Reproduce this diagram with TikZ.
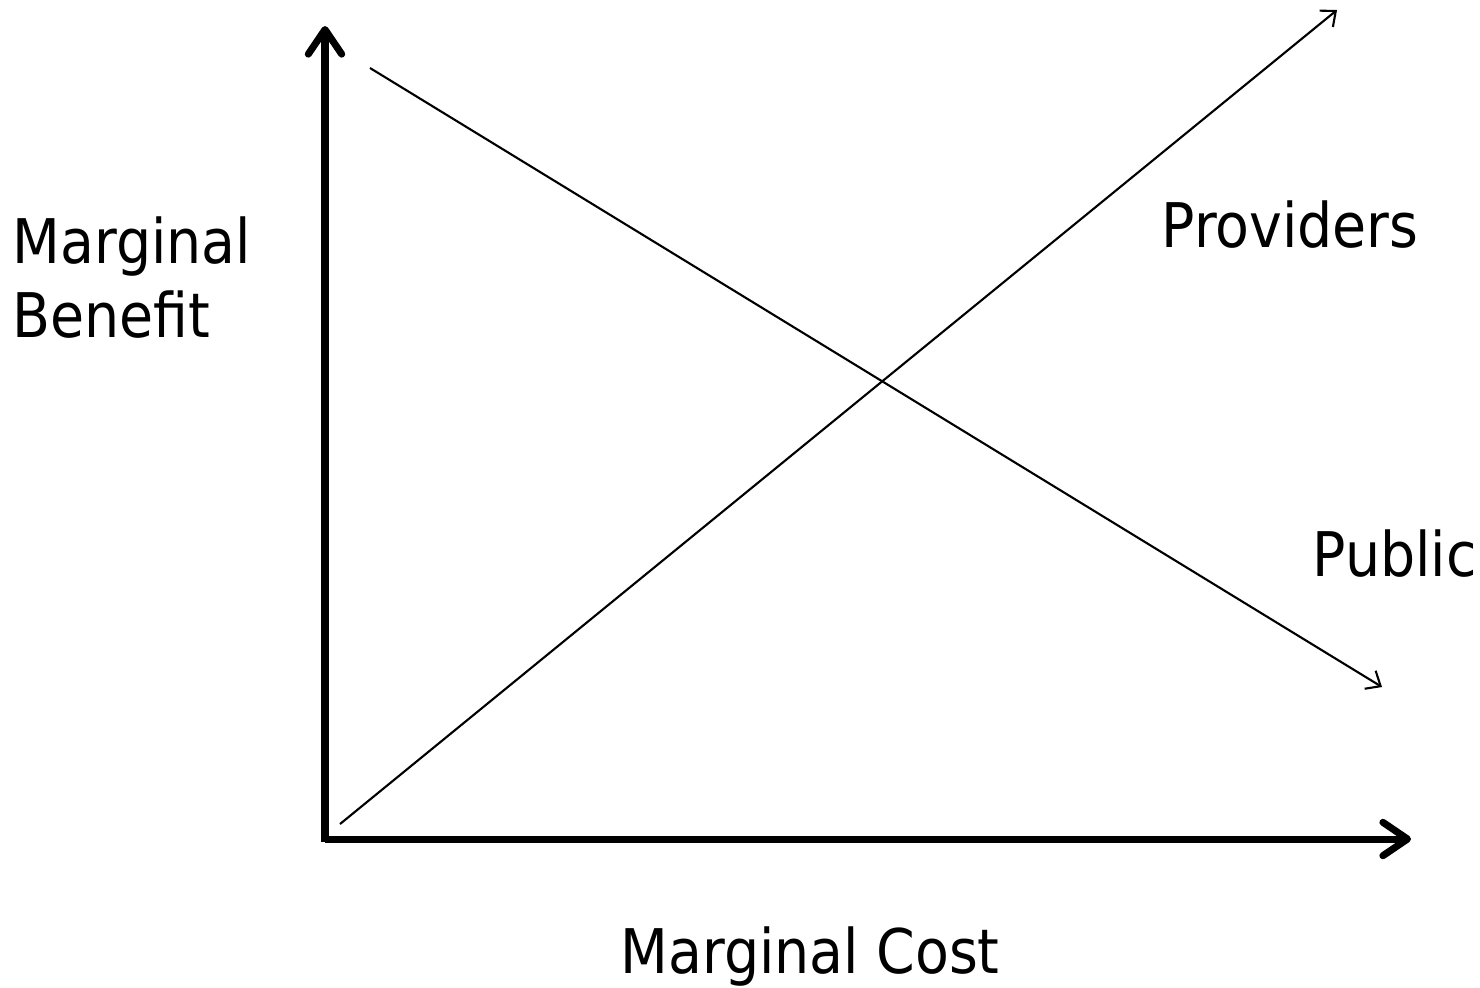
\documentclass[tikz,border=0pt]{standalone}
\usepackage{fontspec}
\setmainfont{DejaVu Sans Condensed}
\usetikzlibrary{arrows.meta,positioning}

\begin{document}
\begin{tikzpicture}[
    x=0.01cm, y=-0.01cm,
    axis/.style={line width=2pt, -{Straight Barb[length=7pt, width=9.5pt, round]}},
    curve/.style={line width=0.6pt, -{Straight Barb[length=3.5pt, width=6pt]}},
    label/.style={font=\fontsize{17.5}{21}\selectfont, inner sep=0pt, anchor=base west}
]
\useasboundingbox (0,0) rectangle (1480,987);
\coordinate (origin) at (325,839);
\coordinate (ybottom) at (325,842);
\coordinate (ytop) at (325,26);
\coordinate (xend) at (1411,839);
\coordinate (pubstart) at (370,68);
\coordinate (pubend) at (1382,687);
\coordinate (provstart) at (340,824);
\coordinate (provend) at (1337,10);

\draw[axis] (ybottom) -- (ytop);
\draw[axis] (origin) -- (xend);
\draw[curve] (pubstart) -- (pubend);
\draw[curve] (provstart) -- (provend);

\node[label] (mb1) at (12,263) {Marginal};
\node[label] (mb2) at (12,337) {Benefit};
\node[label] (providers) at (1161,247) {Providers};
\node[label] (public) at (1312,576) {Public};
\node[label] (mc) at (620,973) {Marginal Cost};
\end{tikzpicture}
\end{document}
